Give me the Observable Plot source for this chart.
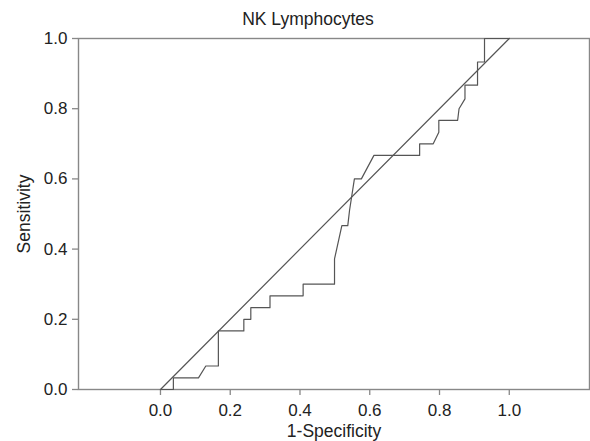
<!DOCTYPE html>
<html>
<head>
<meta charset="utf-8">
<script src="https://cdn.jsdelivr.net/npm/d3@7"></script>
<script src="https://cdn.jsdelivr.net/npm/@observablehq/plot@0.6"></script>
<style>
  body { margin: 0; background: #fff; font-family: "Liberation Sans", Arial, sans-serif; }
  #wrap { width: 590px; position: relative; }
  #title { height: 30px; line-height: 39px; font-size: 17.5px; color: #222; text-align: center; padding-left: 26px; box-sizing: border-box; white-space: nowrap; }
  #chart svg { display: block; }
</style>
</head>
<body>
<div id="wrap">
  <div id="title">NK Lymphocytes</div>
  <div id="chart"></div>
</div>
<script>
const title = "NK Lymphocytes";
const xLabel = "1-Specificity";
const yLabel = "Sensitivity";
const xTicks = [0, 0.2, 0.4, 0.6, 0.8, 1.0];
const yTicks = [0, 0.2, 0.4, 0.6, 0.8, 1.0];

// ROC curve points (1-Specificity, Sensitivity)
const rocFpr = [0, 0.037, 0.037, 0.109, 0.13, 0.166, 0.166, 0.239, 0.239, 0.259, 0.259, 0.314, 0.314, 0.409, 0.409, 0.499, 0.499, 0.52, 0.537, 0.542, 0.556, 0.576, 0.612, 0.743, 0.743, 0.782, 0.798, 0.798, 0.852, 0.856, 0.873, 0.873, 0.909, 0.909, 0.929, 0.929, 1.0];
const rocTpr = [0, 0, 0.033, 0.033, 0.067, 0.067, 0.167, 0.167, 0.2, 0.2, 0.233, 0.233, 0.267, 0.267, 0.3, 0.3, 0.372, 0.467, 0.467, 0.51, 0.6, 0.6, 0.667, 0.667, 0.7, 0.7, 0.733, 0.767, 0.767, 0.8, 0.828, 0.867, 0.867, 0.933, 0.933, 1.0, 1.0];

// reference diagonal
const diagX = [0, 1];
const diagY = [0, 1];

const roc = rocFpr.map((x, i) => ({x, y: rocTpr[i]}));
const diag = diagX.map((x, i) => ({x, y: diagY[i]}));

const chart = Plot.plot({
  width: 590,
  height: 411,
  marginTop: 8,
  marginBottom: 52,
  marginLeft: 78,
  marginRight: 1,
  style: {fontFamily: "'Liberation Sans', Arial, sans-serif", fontSize: "17px", color: "#222", background: "#fff", overflow: "visible"},
  x: {domain: [-0.235, 1.23]},
  y: {domain: [0, 1]},
  marks: [
    Plot.frame({stroke: "#888", strokeWidth: 1.4}),
    Plot.axisX({ticks: xTicks, tickFormat: d3.format(".1f"), tickSize: 6, tickPadding: 8, stroke: "#888", strokeWidth: 1.3,
      label: null}),
    Plot.axisX({ticks: [], label: xLabel, labelAnchor: "center", labelOffset: 47, labelArrow: "none", fontSize: "17.5px"}),
    Plot.axisY({ticks: yTicks, tickFormat: d3.format(".1f"), tickSize: 6, tickPadding: 5, stroke: "#888", strokeWidth: 1.3,
      label: null}),
    Plot.axisY({ticks: [], label: yLabel, labelAnchor: "center", labelOffset: 61, labelArrow: "none", fontSize: "17.5px"}),
    Plot.line(diag, {x: "x", y: "y", stroke: "#555", strokeWidth: 1.2}),
    Plot.line(roc, {x: "x", y: "y", stroke: "#555", strokeWidth: 1.2})
  ]
});
document.getElementById("chart").appendChild(chart);
</script>
</body>
</html>
